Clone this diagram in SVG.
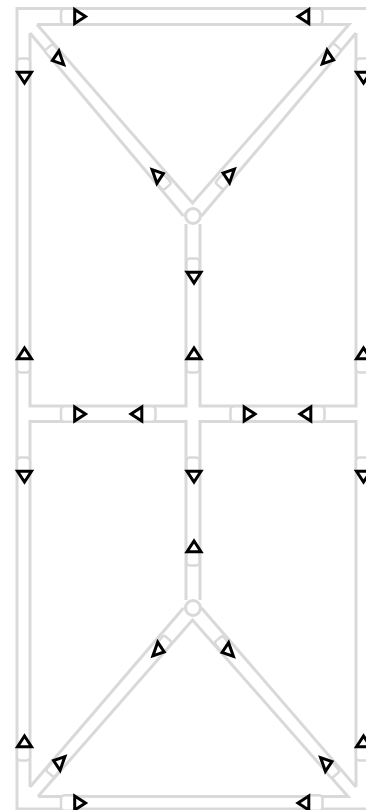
<svg xmlns="http://www.w3.org/2000/svg" width="366" height="810" viewBox="0 0 366 810">
<style>
.w{fill:none;stroke:#d9d9d9;stroke-width:3}
.j{fill:#fff;stroke:#d9d9d9;stroke-width:3}
.t{fill:#fff;stroke:#d9d9d9;stroke-width:2.500}
.a{fill:#fff;stroke:#000;stroke-width:3;stroke-linejoin:miter}
</style>
<defs>
<rect id="th" class="t" x="-18.500" y="-7.700" width="15" height="15.400" rx="3.500"/>
<rect id="tv" class="t" x="-18.500" y="-6.500" width="15" height="13" rx="3.500"/>
<rect id="td" class="t" x="-15" y="-5.500" width="12" height="11" rx="2.500" transform="rotate(49)"/>
<polygon id="p" class="a" points="-4.800,-7 6,0 -4.800,7"/>
<polygon id="q" class="a" points="0.600,-7.800 5.400,5.900 -5.900,1.900"/>
</defs>
<g id="connectors">
<path class="w" d="M17 810V8.500H366"/>
<path class="w" d="M17 809H366"/>
<path class="w" d="M30 33V406H186V224"/>
<path class="w" d="M37 24.500H349L192.500 203L37 24.500"/>
<path class="w" d="M30 33L183.500 216"/>
<path class="w" d="M356 33L201.500 216"/>
<path class="w" d="M200 224V406H356V33"/>
<path class="w" d="M30 787V421.500H186V600"/>
<path class="w" d="M200 600V421.500H356V787"/>
<path class="w" d="M30 787L183.500 608"/>
<path class="w" d="M356 787L201.500 608"/>
<path class="w" d="M38 796.500H348L192.500 620L38 796.500"/>
</g>
<g id="junction-top"><circle class="j" cx="193" cy="216" r="7.500"/></g>
<g id="junction-bottom"><circle class="j" cx="193" cy="608" r="7.500"/></g>
<g id="n1" transform="translate(79.500,16.500)"><use href="#th"/><use href="#p"/></g>
<g id="n2" transform="translate(304,16.500) rotate(180)"><use href="#th"/><use href="#p"/></g>
<g id="n3" transform="translate(24.500,77) rotate(90)"><use href="#tv" transform="translate(0,1)"/><use href="#p"/></g>
<g id="n4" transform="translate(363.500,77) rotate(90)"><use href="#tv" transform="translate(0,1)"/><use href="#p"/></g>
<g id="n5" transform="translate(58.300,58.700)"><use href="#td"/><use href="#q"/></g>
<g id="n6" transform="translate(327.700,58) scale(-1,1)"><use href="#td"/><use href="#q"/></g>
<g id="n7" transform="translate(157.500,175.500) scale(-1,-1)"><use href="#td"/><use href="#q"/></g>
<g id="n8" transform="translate(229,175) scale(1,-1)"><use href="#td"/><use href="#q"/></g>
<g id="n9" transform="translate(194,277) rotate(90)"><use href="#tv" transform="translate(0,1)"/><use href="#p"/></g>
<g id="n10" transform="translate(24.500,354) rotate(-90)"><use href="#tv" transform="translate(0,-1)"/><use href="#p"/></g>
<g id="n11" transform="translate(194,354) rotate(-90)"><use href="#tv" transform="translate(0,-1)"/><use href="#p"/></g>
<g id="n12" transform="translate(363.500,354) rotate(-90)"><use href="#tv" transform="translate(0,-1)"/><use href="#p"/></g>
<g id="n13" transform="translate(79.500,414)"><use href="#th"/><use href="#p"/></g>
<g id="n14" transform="translate(137,414) rotate(180)"><use href="#th"/><use href="#p"/></g>
<g id="n15" transform="translate(249,414)"><use href="#th"/><use href="#p"/></g>
<g id="n16" transform="translate(306,414) rotate(180)"><use href="#th"/><use href="#p"/></g>
<g id="n17" transform="translate(24.500,476) rotate(90)"><use href="#tv" transform="translate(0,1)"/><use href="#p"/></g>
<g id="n18" transform="translate(194,476) rotate(90)"><use href="#tv" transform="translate(0,1)"/><use href="#p"/></g>
<g id="n19" transform="translate(363.500,476) rotate(90)"><use href="#tv" transform="translate(0,1)"/><use href="#p"/></g>
<g id="n20" transform="translate(194,547) rotate(-90)"><use href="#tv" transform="translate(0,-1)"/><use href="#p"/></g>
<g id="n21" transform="translate(158.300,650) scale(-1,1)"><use href="#td"/><use href="#q"/></g>
<g id="n22" transform="translate(228,650.500)"><use href="#td"/><use href="#q"/></g>
<g id="n23" transform="translate(59.500,762.500) scale(1,-1)"><use href="#td"/><use href="#q"/></g>
<g id="n24" transform="translate(326,763.500) scale(-1,-1)"><use href="#td"/><use href="#q"/></g>
<g id="n25" transform="translate(24.500,742) rotate(-90)"><use href="#tv" transform="translate(0,-1)"/><use href="#p"/></g>
<g id="n26" transform="translate(363.500,742) rotate(-90)"><use href="#tv" transform="translate(0,-1)"/><use href="#p"/></g>
<g id="n27" transform="translate(79.500,803)"><use href="#th"/><use href="#p"/></g>
<g id="n28" transform="translate(304,803) rotate(180)"><use href="#th"/><use href="#p"/></g>
</svg>
